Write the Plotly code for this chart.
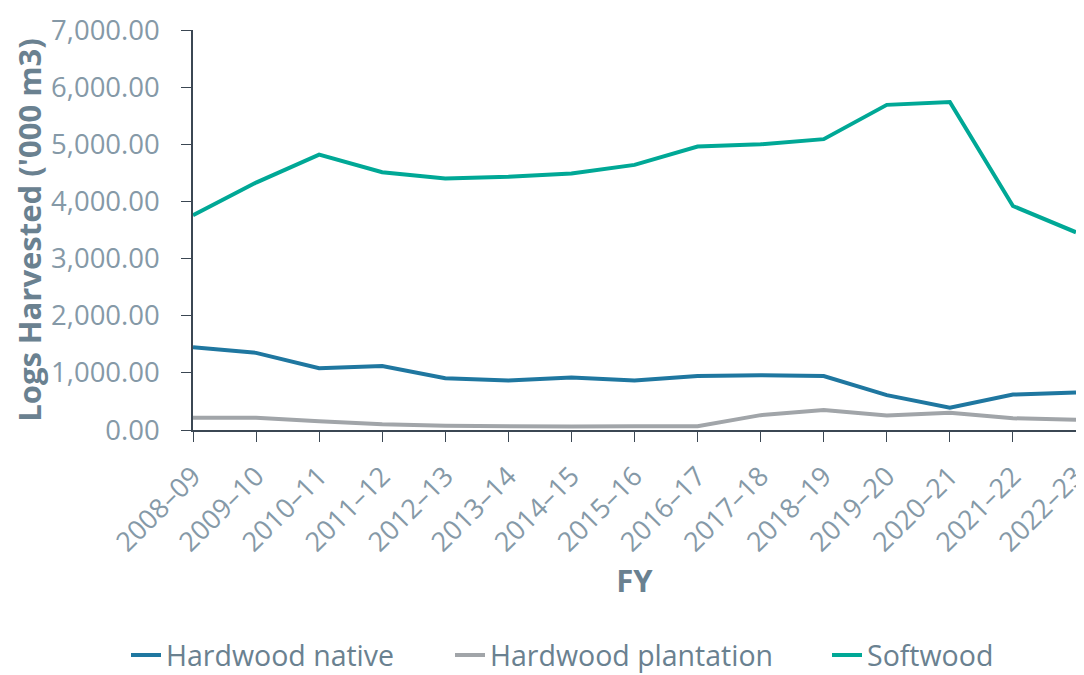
import plotly.graph_objects as go

years = ["2008–09", "2009–10", "2010–11", "2011–12", "2012–13", "2013–14", "2014–15",
         "2015–16", "2016–17", "2017–18", "2018–19", "2019–20", "2020–21", "2021–22", "2022–23"]

hardwood_native = [1450, 1350, 1080, 1120, 905, 865, 920, 865, 945, 960, 945, 610, 390, 620, 655]
hardwood_plantation = [215, 215, 155, 100, 75, 60, 60, 65, 65, 260, 350, 255, 300, 205, 180]
softwood = [3760, 4330, 4820, 4510, 4400, 4430, 4490, 4640, 4960, 5000, 5090, 5690, 5740, 3920, 3460]

series = [
    ("Hardwood native", hardwood_native, "#1f77a0", "legend"),
    ("Hardwood plantation", hardwood_plantation, "#a1a5a9", "legend2"),
    ("Softwood", softwood, "#00a896", "legend3"),
]

tick_color = "#8599a7"
title_color = "#6a8190"
axis_color = "#3b4753"

# page body has an 8px margin; figure sized so that the view matches 1084x675
W, H = 1076, 667
L, R, T, B = 185, 8, 22, 245
plot_w = W - L - R


def lx(px_abs):
    return (px_abs - 8 - L) / plot_w


fig = go.Figure()
for name, vals, col, lg in series:
    fig.add_trace(go.Scatter(x=years, y=vals, name=name, mode="lines", legend=lg,
                             line=dict(color=col, width=4)))

leg_common = dict(orientation="h", xanchor="left", y=-0.50, yanchor="top",
                  font=dict(size=28.5, color=title_color), itemwidth=30,
                  bgcolor="rgba(0,0,0,0)")

fig.update_layout(
    width=W, height=H,
    margin=dict(l=L, r=R, t=T, b=B, autoexpand=False),
    paper_bgcolor="white", plot_bgcolor="white",
    font=dict(family="Open Sans", color=tick_color),
    showlegend=True,
    legend=dict(x=lx(126), **leg_common),
    legend2=dict(x=lx(450), **leg_common),
    legend3=dict(x=lx(827), **leg_common),
    xaxis=dict(
        type="category", range=[0, 14], showgrid=False, zeroline=False, automargin=False,
        showline=True, linecolor=axis_color, linewidth=1.5,
        ticks="outside", ticklen=10, tickcolor=axis_color, tickwidth=1,
        tickangle=-45, tickfont=dict(size=27, color=tick_color), ticklabelstandoff=8,
        title=dict(text="<b>FY</b>", font=dict(size=31, color=title_color), standoff=12),
    ),
    yaxis=dict(
        range=[0, 7000], dtick=1000, tickformat=",.2f", showgrid=False, zeroline=False,
        automargin=False,
        showline=True, linecolor=axis_color, linewidth=1.5,
        ticks="outside", ticklen=10, tickcolor=axis_color, tickwidth=1,
        tickfont=dict(size=27.5, color=tick_color), ticklabelstandoff=16,
        title=dict(text="<b>Logs Harvested ('000 m3)</b>", font=dict(size=31, color=title_color), standoff=10),
    ),
)

fig.write_html("out.html")
